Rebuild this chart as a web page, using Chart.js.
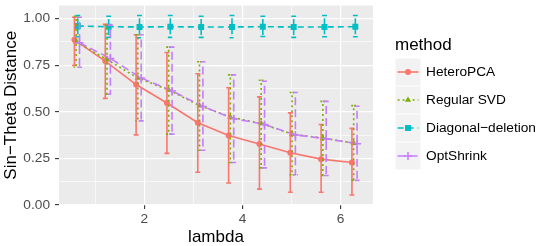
<!DOCTYPE html>
<html>
<head>
<meta charset="utf-8">
<script src="https://cdn.jsdelivr.net/npm/chart.js@4/dist/chart.umd.min.js"></script>
<style>
  html, body { margin: 0; padding: 0; background: #fff; }
  #wrap { width: 543px; height: 246px; }
</style>
</head>
<body>
<div id="wrap"><canvas id="chart" width="543" height="246"></canvas></div>
<script>
// Data
const lambda = [0.628, 1.257, 1.885, 2.513, 3.142, 3.770, 4.398, 5.027, 5.655, 6.283];
const methods = ['HeteroPCA', 'Regular SVD', 'Diagonal\u2212deletion', 'OptShrink'];

const heteroMean = [0.886, 0.772, 0.646, 0.547, 0.441, 0.373, 0.327, 0.280, 0.246, 0.228];
const heteroLo   = [0.748, 0.572, 0.376, 0.277, 0.176, 0.118, 0.085, 0.068, 0.068, 0.054];
const heteroHi   = [1.007, 0.969, 0.913, 0.818, 0.704, 0.629, 0.580, 0.494, 0.432, 0.411];

const svdMean = [0.876, 0.780, 0.681, 0.617, 0.533, 0.472, 0.437, 0.380, 0.359, 0.332];
const svdLo   = [0.739, 0.594, 0.451, 0.380, 0.294, 0.228, 0.199, 0.162, 0.158, 0.132];
const svdHi   = [1.012, 0.965, 0.913, 0.847, 0.768, 0.698, 0.669, 0.603, 0.556, 0.533];

const diagMean = [0.960, 0.956, 0.955, 0.956, 0.955, 0.955, 0.956, 0.955, 0.955, 0.956];
const diagLo   = [0.902, 0.899, 0.897, 0.899, 0.899, 0.897, 0.904, 0.899, 0.902, 0.902];
const diagHi   = [1.016, 1.012, 1.016, 1.016, 1.012, 1.016, 1.012, 1.012, 1.016, 1.016];

const optMean = [0.870, 0.786, 0.681, 0.612, 0.528, 0.463, 0.432, 0.376, 0.355, 0.329];
const optLo   = [0.739, 0.594, 0.451, 0.380, 0.294, 0.228, 0.199, 0.162, 0.158, 0.132];
const optHi   = [1.007, 0.965, 0.913, 0.847, 0.768, 0.698, 0.664, 0.603, 0.556, 0.530];

const xTicks = [1, 2, 3, 4, 5, 6];
const yTicks = [0, 0.125, 0.25, 0.375, 0.5, 0.625, 0.75, 0.875, 1];

// styling
const colors = ['#F8766D', '#7CAE00', '#00BFC4', '#C77CFF'];
const dashes = [[], [2, 3], [6, 4], [8, 4]];
const shapes = ['circle', 'triangle', 'rect', 'cross'];
const radii = [3, 3.6, 4.2, 4];
const dodge = [-0.052, -0.017, 0.017, 0.052];
const capWidth = 0.1;
const lineW = 1.6;

Chart.defaults.font.family = '"Liberation Sans", Arial, sans-serif';

function series(mean, lo, hi, k) {
    return lambda.map((l, i) => ({ x: l + dodge[k], y: mean[i], lo: lo[i], hi: hi[i] }));
}

const allSeries = [
    [heteroMean, heteroLo, heteroHi],
    [svdMean, svdLo, svdHi],
    [diagMean, diagLo, diagHi],
    [optMean, optLo, optHi]
];

const datasets = allSeries.map((s, k) => ({
    label: methods[k],
    data: series(s[0], s[1], s[2], k),
    borderColor: colors[k],
    backgroundColor: colors[k],
    borderWidth: lineW,
    borderDash: dashes[k],
    pointStyle: shapes[k],
    pointRadius: radii[k],
    pointBackgroundColor: colors[k],
    pointBorderColor: colors[k],
    pointBorderWidth: shapes[k] === 'cross' ? 1.5 : 0,
    tension: 0,
    order: 4 - k
}));

function isMajorY(v) { return Math.abs(v * 4 - Math.round(v * 4)) < 1e-6; }
function isMajorX(v) { return v % 2 === 0; }

function noPad(s) {
    s.paddingTop = 0;
    s.paddingBottom = 0;
    s.paddingLeft = 0;
    s.paddingRight = 0;
}

// grey panel behind the grid
const panelBg = {
    id: 'panelBg',
    beforeDraw(chart) {
        const { ctx, chartArea: a } = chart;
        ctx.save();
        ctx.fillStyle = '#EBEBEB';
        ctx.fillRect(a.left, a.top, a.right - a.left, a.bottom - a.top);
        ctx.restore();
    }
};

// error bars drawn through the scales
const errorBars = {
    id: 'errorBars',
    afterDatasetsDraw(chart) {
        const { ctx, chartArea: a, scales: { x, y } } = chart;
        ctx.save();
        ctx.beginPath();
        ctx.rect(a.left, a.top, a.right - a.left, a.bottom - a.top);
        ctx.clip();
        chart.data.datasets.forEach(ds => {
            ctx.strokeStyle = ds.borderColor;
            ctx.lineWidth = lineW;
            ctx.setLineDash(ds.borderDash);
            ds.data.forEach(p => {
                const px = x.getPixelForValue(p.x);
                const left = x.getPixelForValue(p.x - capWidth / 2);
                const right = x.getPixelForValue(p.x + capWidth / 2);
                const top = y.getPixelForValue(p.hi);
                const bot = y.getPixelForValue(p.lo);
                ctx.beginPath();
                ctx.moveTo(left, top);
                ctx.lineTo(right, top);
                ctx.lineTo(px, top);
                ctx.lineTo(px, bot);
                ctx.lineTo(left, bot);
                ctx.lineTo(right, bot);
                ctx.stroke();
            });
        });
        ctx.restore();
    }
};

function drawShape(ctx, shape, cx, cy, r, color) {
    ctx.fillStyle = color;
    ctx.strokeStyle = color;
    ctx.setLineDash([]);
    ctx.beginPath();
    if (shape === 'circle') {
        ctx.arc(cx, cy, r, 0, Math.PI * 2);
        ctx.fill();
    } else if (shape === 'triangle') {
        ctx.moveTo(cx, cy - r);
        ctx.lineTo(cx - r * 0.866, cy + r * 0.5);
        ctx.lineTo(cx + r * 0.866, cy + r * 0.5);
        ctx.closePath();
        ctx.fill();
    } else if (shape === 'rect') {
        const s = r * Math.SQRT1_2;
        ctx.rect(cx - s, cy - s, 2 * s, 2 * s);
        ctx.fill();
    } else {
        ctx.lineWidth = 1.5;
        ctx.moveTo(cx - r, cy);
        ctx.lineTo(cx + r, cy);
        ctx.moveTo(cx, cy - r);
        ctx.lineTo(cx, cy + r);
        ctx.stroke();
    }
}

// ggplot-like legend on the right
const sideLegend = {
    id: 'sideLegend',
    afterDraw(chart) {
        const { ctx, chartArea: a } = chart;
        const x0 = a.right + 22;
        const keyTop = 58, keyW = 26, keyH = 28;
        ctx.save();
        ctx.fillStyle = '#000';
        ctx.font = '17px "Liberation Sans", Arial, sans-serif';
        ctx.textBaseline = 'middle';
        ctx.textAlign = 'left';
        ctx.fillText('method', x0, 45);
        chart.data.datasets.forEach((ds, k) => {
            const ky = keyTop + k * keyH;
            const cy = ky + keyH / 2;
            ctx.fillStyle = '#F2F2F2';
            ctx.fillRect(x0 + 0.5, ky + 0.5, keyW - 1, keyH - 1);
            ctx.strokeStyle = ds.borderColor;
            ctx.lineWidth = lineW;
            ctx.setLineDash(ds.borderDash);
            ctx.beginPath();
            ctx.moveTo(x0 + keyW * 0.1, cy);
            ctx.lineTo(x0 + keyW * 0.9, cy);
            ctx.stroke();
            drawShape(ctx, shapes[k], x0 + keyW / 2, cy, radii[k], ds.borderColor);
            ctx.fillStyle = '#000';
            ctx.font = '13.7px "Liberation Sans", Arial, sans-serif';
            ctx.fillText(ds.label, x0 + keyW + 5, cy);
        });
        ctx.restore();
    }
};

new Chart(document.getElementById('chart').getContext('2d'), {
    type: 'line',
    data: { datasets: datasets },
    plugins: [panelBg, errorBars, sideLegend],
    options: {
        responsive: false,
        animation: false,
        layout: { padding: { top: 1, right: 170, left: 0, bottom: 0 } },
        plugins: { legend: { display: false }, tooltip: { enabled: false } },
        scales: {
            x: {
                type: 'linear',
                min: 0.262,
                max: 6.66,
                afterBuildTicks: s => { s.ticks = xTicks.map(v => ({ value: v })); },
                afterFit: s => { s.height = 41; noPad(s); },
                border: { display: false },
                grid: {
                    color: '#FFFFFF',
                    lineWidth: c => isMajorX(c.tick.value) ? 1.2 : 0.6,
                    tickColor: c => isMajorX(c.tick.value) ? '#333333' : 'rgba(0,0,0,0)',
                    tickLength: 4,
                    tickWidth: 1.1
                },
                ticks: {
                    autoSkip: false,
                    maxRotation: 0,
                    padding: 2,
                    color: '#4D4D4D',
                    font: { size: 13.7 },
                    callback: v => isMajorX(v) ? String(v) : ''
                },
                title: {
                    display: true,
                    text: 'lambda',
                    color: '#000',
                    font: { size: 17, lineHeight: 1 },
                    padding: { top: 0, bottom: 0 }
                }
            },
            y: {
                type: 'linear',
                min: 0,
                max: 1.07,
                afterBuildTicks: s => { s.ticks = yTicks.map(v => ({ value: v })); },
                afterFit: s => { s.width = 59; noPad(s); },
                border: { display: false },
                grid: {
                    color: '#FFFFFF',
                    lineWidth: c => isMajorY(c.tick.value) ? 1.2 : 0.6,
                    tickColor: c => isMajorY(c.tick.value) ? '#333333' : 'rgba(0,0,0,0)',
                    tickLength: 4,
                    tickWidth: 1.1
                },
                ticks: {
                    autoSkip: false,
                    padding: 5,
                    color: '#4D4D4D',
                    font: { size: 13.7 },
                    callback: v => isMajorY(v) ? v.toFixed(2) : ''
                },
                title: {
                    display: true,
                    text: 'Sin\u2212Theta Distance',
                    color: '#000',
                    font: { size: 17, lineHeight: 1 },
                    padding: { top: 3, bottom: 0 }
                }
            }
        }
    }
});
</script>
</body>
</html>
